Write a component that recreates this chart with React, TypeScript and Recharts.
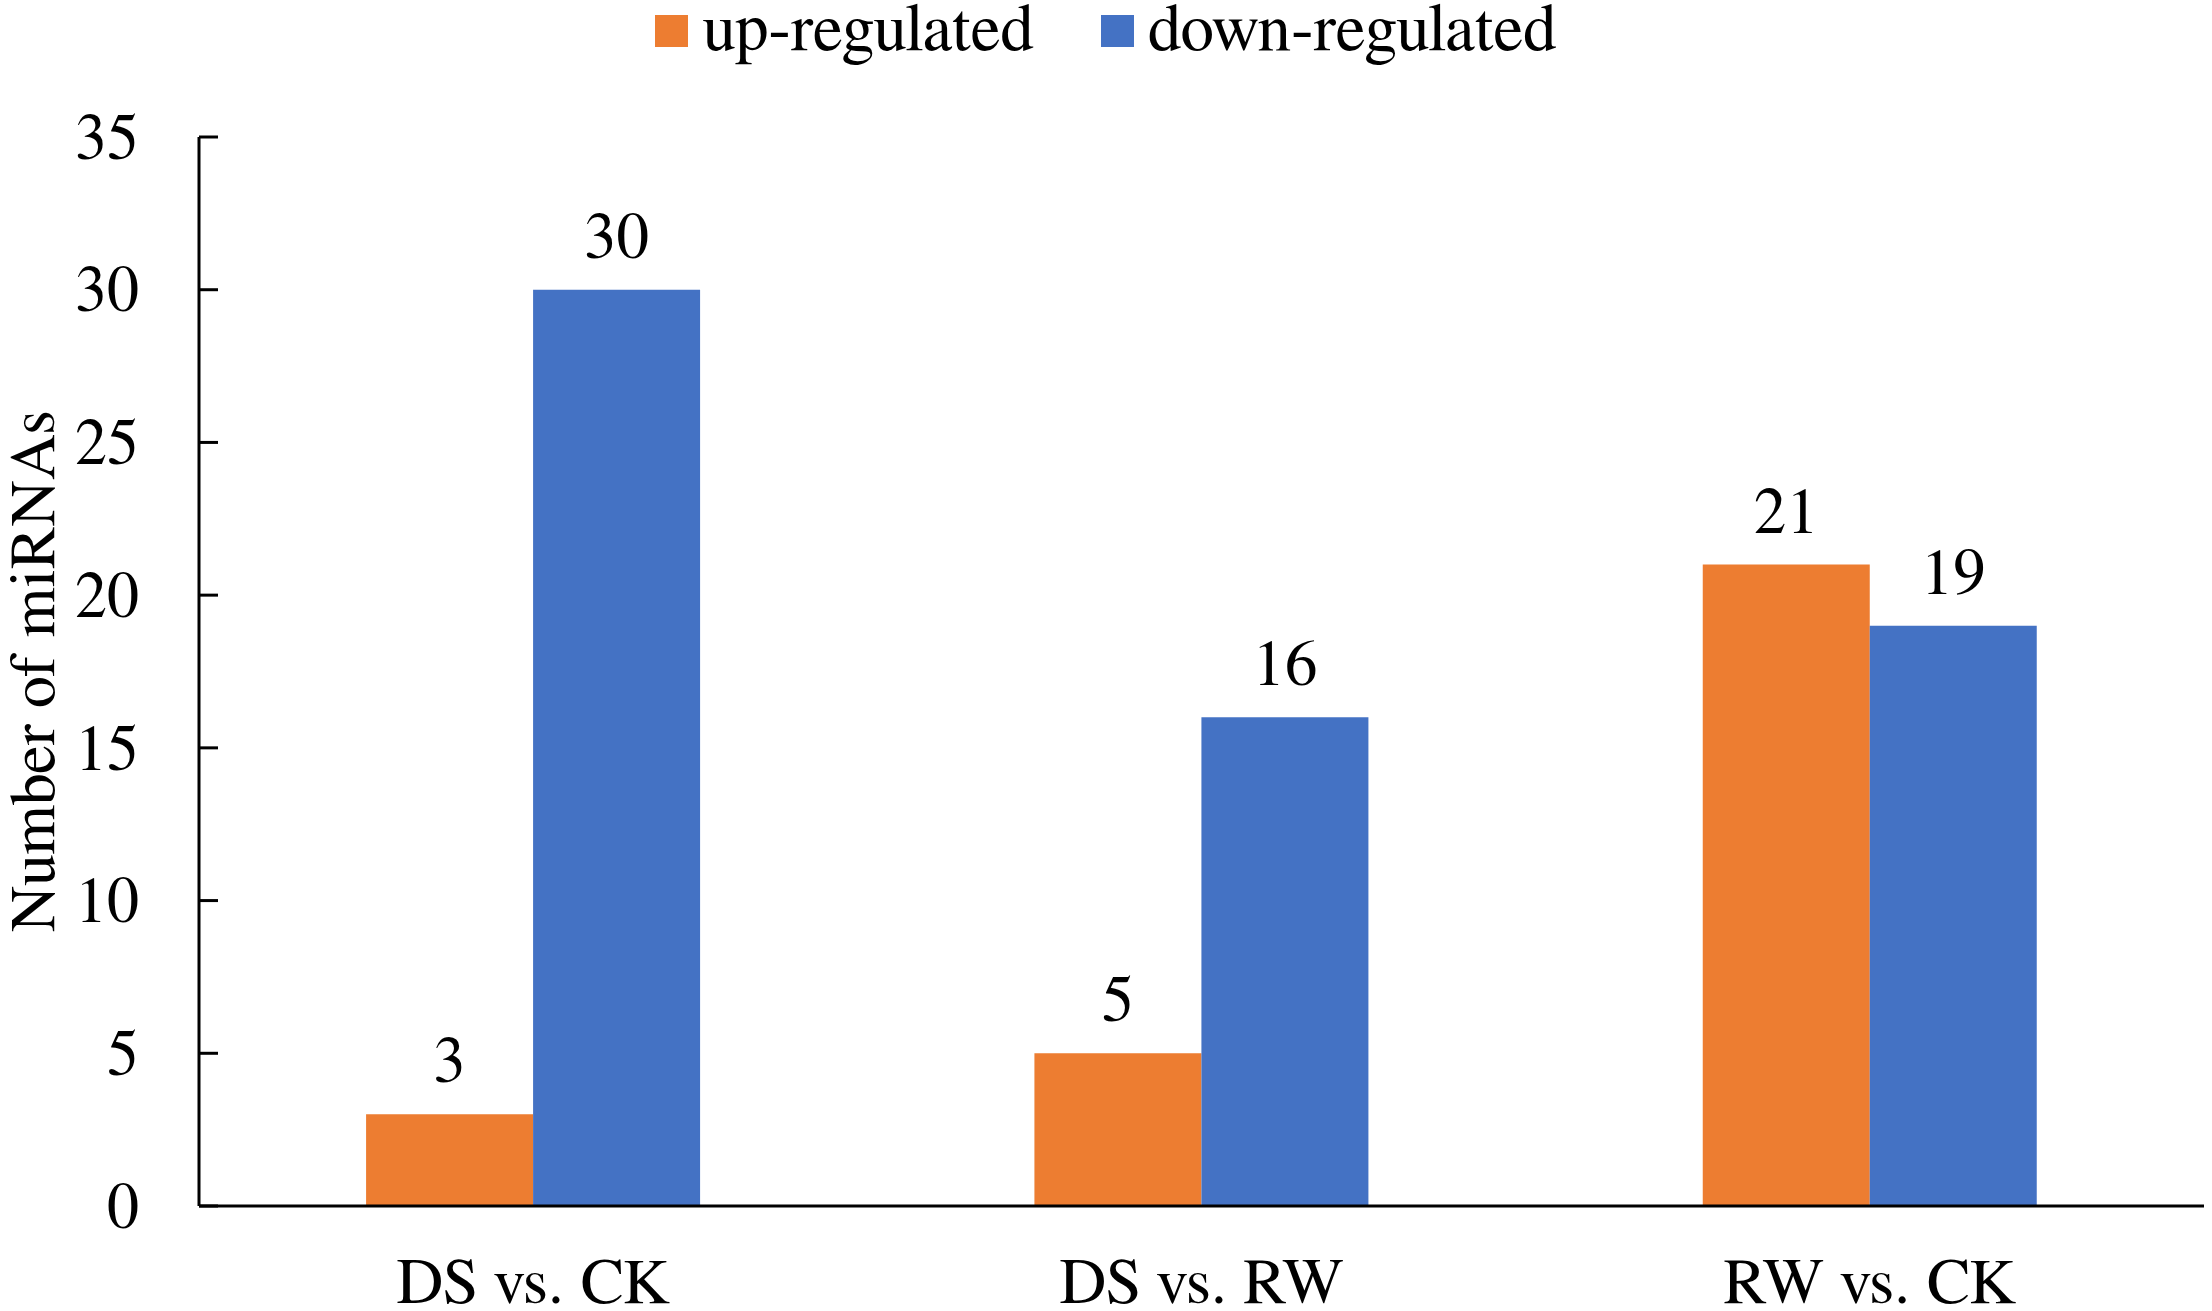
import { Bar, BarChart, LabelList, Legend, XAxis, YAxis } from 'recharts'

const categories = ['DS vs. CK', 'DS vs. RW', 'RW vs. CK']
const upRegulated = [3, 5, 21]
const downRegulated = [30, 16, 19]
const yTicks = [0, 5, 10, 15, 20, 25, 30, 35]

const data = categories.map((name, i) => ({
  name,
  up: upRegulated[i],
  down: downRegulated[i],
}))

const FONT = 'FreeSerif, Times, serif'
const ORANGE = '#ED7D31'
const BLUE = '#4472C4'

function YTick({ x, y, payload }: any) {
  return (
    <g>
      <line x1={x + 60} x2={x + 79} y1={y} y2={y} stroke="#000" strokeWidth={3} />
      <text x={x} y={y} dy="0.34em" textAnchor="end" fontFamily={FONT} fontSize={64} fill="#000">
        {payload.value}
      </text>
    </g>
  )
}

function YLabel({ viewBox }: any) {
  const cx = viewBox.x + 54
  const cy = viewBox.y + viewBox.height / 2
  return (
    <text
      x={cx}
      y={cy}
      transform={`rotate(-90, ${cx}, ${cy})`}
      textAnchor="middle"
      fontFamily={FONT}
      fontSize={64}
      fill="#000"
    >
      Number of miRNAs
    </text>
  )
}

function LegendContent() {
  const items = [
    { label: 'up-regulated', color: ORANGE },
    { label: 'down-regulated', color: BLUE },
  ]
  return (
    <div
      style={{
        display: 'flex',
        justifyContent: 'center',
        alignItems: 'center',
        fontFamily: FONT,
        fontSize: 67,
        lineHeight: '60px',
        height: 60,
        color: '#000',
      }}
    >
      {items.map((it, i) => (
        <div key={it.label} style={{ display: 'flex', alignItems: 'center', marginRight: i === 0 ? 67 : 0 }}>
          <span
            style={{ display: 'inline-block', width: 33, height: 32, background: it.color, marginRight: 14, marginTop: 2 }}
          />
          <span>{it.label}</span>
        </div>
      ))}
    </div>
  )
}

export default function App() {
  return (
    <div style={{ position: 'absolute', left: 0, top: 0, background: '#fff' }}>
      <BarChart
        width={2212}
        height={1311}
        data={data}
        margin={{ top: 137, right: 8, bottom: 0, left: 0 }}
        barCategoryGap="25%"
        barGap={0}
      >
        <XAxis
          dataKey="name"
          height={105}
          axisLine={{ stroke: '#000', strokeWidth: 3 }}
          tickLine={false}
          tickSize={0}
          tickMargin={51}
          tick={{ fontFamily: FONT, fontSize: 65, fill: '#000' }}
        />
        <YAxis
          width={199}
          domain={[0, 35]}
          ticks={yTicks}
          interval={0}
          axisLine={{ stroke: '#000', strokeWidth: 3 }}
          tickLine={false}
          tickSize={0}
          tickMargin={60}
          tick={<YTick />}
          label={<YLabel />}
        />
        <Legend
          layout="horizontal"
          verticalAlign="middle"
          align="center"
          wrapperStyle={{ top: 0, left: 0, width: 2212 }}
          content={<LegendContent />}
        />
        <Bar dataKey="up" name="up-regulated" fill={ORANGE} isAnimationActive={false}>
          <LabelList dataKey="up" position="top" offset={32} fontFamily={FONT} fontSize={65} fill="#000" />
        </Bar>
        <Bar dataKey="down" name="down-regulated" fill={BLUE} isAnimationActive={false}>
          <LabelList dataKey="down" position="top" offset={32} fontFamily={FONT} fontSize={65} fill="#000" />
        </Bar>
      </BarChart>
    </div>
  )
}
